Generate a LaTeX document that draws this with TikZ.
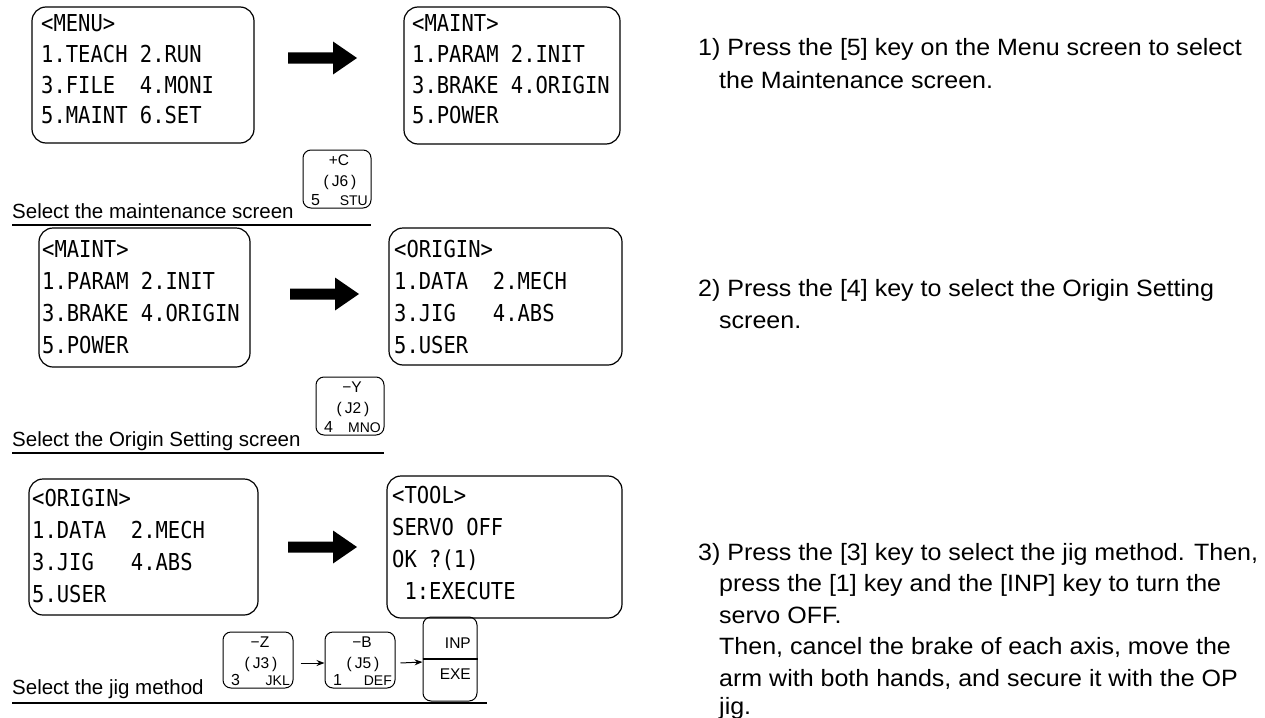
\documentclass[tikz,border=0pt]{standalone}
\usepackage{fontspec}
\setmainfont{Liberation Sans}
\newfontfamily\scrfont[FakeStretch=0.88]{DejaVu Sans Mono}
\newfontfamily\descfont[FakeStretch=1.06]{Liberation Sans}
\usetikzlibrary{fit,arrows.meta}
\tikzset{
  screenbox/.style={draw, line width=1.2pt, rounded corners=14pt, inner sep=0pt},
  scrtext/.style={anchor=base west, inner sep=0pt, font=\scrfont\fontsize{23.3}{28}\selectfont},
  keybox/.style={draw, line width=1pt, rounded corners=8pt, inner sep=0pt},
  keytxt/.style={inner sep=0pt, font=\fontsize{15.5}{17}\selectfont},
  keynum/.style={inner sep=0pt, anchor=base west, font=\fontsize{16}{17}\selectfont},
  keysmall/.style={inner sep=0pt, anchor=base east, font=\fontsize{14}{15}\selectfont},
  lab/.style={anchor=base west, inner sep=0pt, font=\fontsize{20.5}{24}\selectfont},
  desc/.style={anchor=base west, inner sep=0pt, font=\descfont\fontsize{23.6}{28}\selectfont},
  uline/.style={line width=2.6pt},
  keyarrow/.style={line width=1pt, -{Stealth[length=8pt,width=6pt]}},
}
\newcommand\scrbox[5]{\node[screenbox, fit={(#2,#3) (#4,#5)}] (#1) {};}
\newcommand\scrlines[8]{%
  \node[scrtext] (#1-1) at (#2,#3) {#5};
  \node[scrtext] (#1-2) at (#2,#3+#4) {#6};
  \node[scrtext] (#1-3) at (#2,#3+2*#4) {#7};
  \node[scrtext] (#1-4) at (#2,#3+3*#4) {#8};}
\newcommand\keycap[9]{%
  \node[keybox, fit={(#2,#3) (#2+#4,#3+#5)}] (#1) {};
  \node[keytxt, anchor=base] (#1-t) at (#2+#4/2+2,#3+15) {#6};
  \node[keytxt, anchor=base] (#1-m) at (#2+#4/2+3,#3+36) {#7};
  \node[keynum] (#1-n) at (#2+8,#3+#5-3) {#8};
  \node[keysmall] (#1-l) at (#2+#4-3,#3+#5-3) {#9};}
\newcommand\bigarrow[1]{\fill (#1) ++(0,-5.5) -- ++(45,0) -- ++(0,-11) -- ++(24,16.5) -- ++(-24,16.5) -- ++(0,-11) -- ++(-45,0) -- cycle;}
\begin{document}
\begin{tikzpicture}[x=1pt,y=-1pt]
\fill[white] (0,0) rectangle (1265,717);
\useasboundingbox (0,0) rectangle (1265,717);

% ---- row 1
\scrbox{menu}{32}{7}{254}{143}
\scrlines{menut}{41}{32}{30.5}{<MENU>}{1.TEACH 2.RUN}{3.FILE\ \ 4.MONI}{5.MAINT 6.SET}
\coordinate (ar1) at (288,58);
\bigarrow{ar1}
\scrbox{maint1}{404}{7}{620}{144}
\scrlines{maint1t}{412}{32}{30.5}{<MAINT>}{1.PARAM 2.INIT}{3.BRAKE 4.ORIGIN}{5.POWER}
\keycap{k5}{303}{150}{68}{58}{+C}{(\kern3pt J6\kern3pt)}{5}{STU}
\node[lab] (lab1) at (12,218) {Select the maintenance screen};
\coordinate (u1s) at (12,225);
\coordinate (u1e) at (371,225);
\draw[uline] (u1s) -- (u1e);

% ---- row 2
\scrbox{maint2}{39}{228}{250}{367}
\scrlines{maint2t}{42}{257}{32.3}{<MAINT>}{1.PARAM 2.INIT}{3.BRAKE 4.ORIGIN}{5.POWER}
\coordinate (ar2) at (290,294);
\bigarrow{ar2}
\scrbox{origin2}{389}{228}{622}{365}
\scrlines{origin2t}{394}{257}{32.3}{<ORIGIN>}{1.DATA\ \ 2.MECH}{3.JIG\ \ \ 4.ABS}{5.USER}
\keycap{k4}{316}{377}{68}{58}{−Y}{(\kern3pt J2\kern3pt)}{4}{MNO}
\node[lab] (lab2) at (12,446) {Select the Origin Setting screen};
\coordinate (u2s) at (12,453);
\coordinate (u2e) at (384,453);
\draw[uline] (u2s) -- (u2e);

% ---- row 3
\scrbox{origin3}{29}{479}{258}{615}
\scrlines{origin3t}{32}{506}{32.3}{<ORIGIN>}{1.DATA\ \ 2.MECH}{3.JIG\ \ \ 4.ABS}{5.USER}
\coordinate (ar3) at (288,547);
\bigarrow{ar3}
\scrbox{tool}{387}{476}{622}{618}
\scrlines{toolt}{392}{503}{32.3}{<TOOL>}{SERVO OFF}{OK ?(1)}{\ 1:EXECUTE}
\keycap{k3}{223}{632}{70}{56}{−Z}{(\kern3pt J3\kern3pt)}{3}{JKL}
\keycap{k1}{325}{632}{70}{56}{−B}{(\kern3pt J5\kern3pt)}{1}{DEF}
\node[keybox, fit={(423,617) (477,701)}] (kinp) {};
\draw[line width=2pt] (kinp.west) -- (kinp.east);
\node[keytxt, anchor=base east] (kinp-a) at (471,648) {INP};
\node[keytxt, anchor=base east] (kinp-b) at (471,679) {EXE};
\draw[keyarrow] ([xshift=7pt,yshift=-3pt]k3.east) -- ([yshift=-3pt]k1.west);
\draw[keyarrow] ([xshift=5pt,yshift=-3pt]k1.east) -- ([yshift=-3pt]kinp.west);
\node[lab] (lab3) at (12,694) {Select the jig method};
\coordinate (u3s) at (12,703);
\coordinate (u3e) at (487,703);
\draw[uline] (u3s) -- (u3e);

% ---- descriptions
\node[desc] (s1a) at (698,56) {1) Press the [5] key on the Menu screen to select};
\node[desc] (s1b) at (719,88) {the Maintenance screen.};
\node[desc] (s2a) at (698,296) {2) Press the [4] key to select the Origin Setting};
\node[desc] (s2b) at (719,328) {screen.};
\node[desc] (s3a) at (698,560) {3) Press the [3] key to select the jig method. Then,};
\node[desc] (s3b) at (719,591.5) {press the [1] key and the [INP] key to turn the};
\node[desc] (s3c) at (719,623) {servo OFF.};
\node[desc] (s3d) at (719,654.5) {Then, cancel the brake of each axis, move the};
\node[desc] (s3e) at (719,686) {arm with both hands, and secure it with the OP};
\node[desc] (s3f) at (719,714) {jig.};
\end{tikzpicture}
\end{document}
